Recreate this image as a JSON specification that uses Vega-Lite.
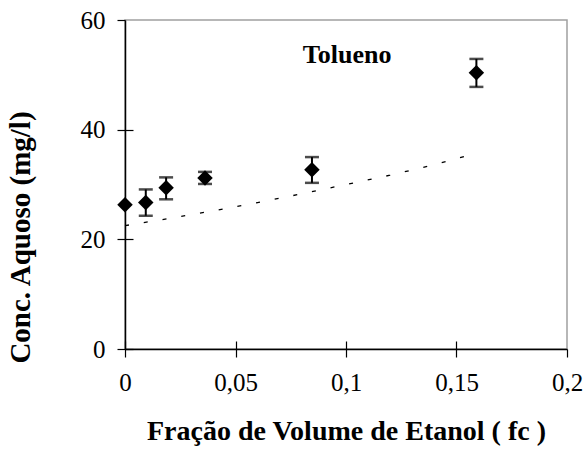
{
  "$schema": "https://vega.github.io/schema/vega-lite/v6.json",
  "width": 442,
  "height": 329,
  "autosize": "none",
  "padding": {"left": 125, "top": 20, "right": 21, "bottom": 112},
  "background": "white",
  "config": {
    "view": {"stroke": "#a0a0a0", "strokeWidth": 1.5},
    "font": "Liberation Serif"
  },
  "datasets": {
    "points": [
      {"fc": 0, "c": 26.3, "lo": null, "hi": null},
      {"fc": 0.0094, "c": 26.7, "lo": 24.3, "hi": 29.1},
      {"fc": 0.0186, "c": 29.4, "lo": 27.3, "hi": 31.3},
      {"fc": 0.0362, "c": 31.2, "lo": 30.1, "hi": 32.3},
      {"fc": 0.0846, "c": 32.7, "lo": 30.3, "hi": 35.0},
      {"fc": 0.159, "c": 50.4, "lo": 47.8, "hi": 52.9}
    ],
    "model": [
      {"fc": 0, "c": 22.5},
      {"fc": 0.02, "c": 23.8},
      {"fc": 0.04, "c": 25.2},
      {"fc": 0.06, "c": 26.7},
      {"fc": 0.08, "c": 28.3},
      {"fc": 0.1, "c": 30.0},
      {"fc": 0.12, "c": 31.7},
      {"fc": 0.14, "c": 33.6},
      {"fc": 0.158, "c": 35.6}
    ],
    "label": [
      {"fc": 0.1005, "c": 53.6, "text": "Tolueno"}
    ]
  },
  "resolve": {"axis": {"x": "independent", "y": "independent"}},
  "layer": [
    {
      "data": {"name": "model"},
      "mark": {"type": "line", "color": "black", "strokeWidth": 1.3, "strokeDash": [4, 15]},
      "encoding": {
        "x": {
          "field": "fc", "type": "quantitative",
          "scale": {"domain": [0, 0.2], "nice": false, "zero": false},
          "axis": {
            "values": [0, 0.05, 0.1, 0.15, 0.2],
            "labelExpr": "replace(toString(datum.value), '.', ',')",
            "labelFlush": false, "labelOverlap": false,
            "grid": false, "tickSize": 8, "tickColor": "black", "tickWidth": 1.2,
            "domainColor": "black", "domainWidth": 1.5,
            "labelFont": "Liberation Serif", "labelFontSize": 25, "labelColor": "black", "labelPadding": 13,
            "title": "Fração de Volume de Etanol ( fc )",
            "titleFont": "Liberation Serif", "titleFontSize": 28, "titleFontWeight": "bold", "titleColor": "black",
            "titlePadding": 22
          }
        },
        "y": {
          "field": "c", "type": "quantitative",
          "scale": {"domain": [0, 60], "nice": false, "zero": false},
          "axis": {
            "values": [0, 20, 40, 60],
            "labelFlush": false, "labelOverlap": false,
            "grid": false, "tickSize": 8, "tickColor": "black", "tickWidth": 1.2,
            "domainColor": "black", "domainWidth": 1.5,
            "labelFont": "Liberation Serif", "labelFontSize": 25, "labelColor": "black", "labelPadding": 12,
            "title": "Conc. Aquoso (mg/l)",
            "titleFont": "Liberation Serif", "titleFontSize": 29, "titleFontWeight": "bold", "titleColor": "black",
            "titleX": -105, "titleY": 217, "titleAngle": -90, "titleAlign": "center", "titleBaseline": "middle"
          }
        }
      }
    },
    {
      "data": {"name": "points"},
      "transform": [{"filter": "datum.lo != null"}],
      "mark": {"type": "errorbar", "color": "black", "thickness": 2, "ticks": {"size": 14, "thickness": 2.5, "color": "black"}},
      "encoding": {
        "x": {
          "field": "fc", "type": "quantitative",
          "scale": {"domain": [0, 0.2], "nice": false, "zero": false},
          "axis": {
            "orient": "top", "offset": -329, "values": [0, 0.05, 0.1, 0.15],
            "labels": false, "domain": false, "grid": false, "title": null,
            "tickSize": 8, "tickColor": "black", "tickWidth": 1.2
          }
        },
        "y": {
          "field": "lo", "type": "quantitative",
          "scale": {"domain": [0, 60], "nice": false, "zero": false},
          "axis": {
            "orient": "right", "offset": -442, "values": [0, 20, 40],
            "labels": false, "domain": false, "grid": false, "title": null,
            "tickSize": 8, "tickColor": "black", "tickWidth": 1.2
          }
        },
        "y2": {"field": "hi"}
      }
    },
    {
      "data": {"name": "points"},
      "mark": {"type": "point", "shape": "diamond", "filled": true, "color": "black", "size": 240, "opacity": 1},
      "encoding": {
        "x": {"field": "fc", "type": "quantitative", "axis": null},
        "y": {"field": "c", "type": "quantitative", "axis": null}
      }
    },
    {
      "data": {"name": "label"},
      "mark": {"type": "text", "font": "Liberation Serif", "fontSize": 26, "fontWeight": "bold", "color": "black", "align": "center", "baseline": "middle"},
      "encoding": {
        "x": {"field": "fc", "type": "quantitative", "axis": null},
        "y": {"field": "c", "type": "quantitative", "axis": null},
        "text": {"field": "text"}
      }
    }
  ]
}
